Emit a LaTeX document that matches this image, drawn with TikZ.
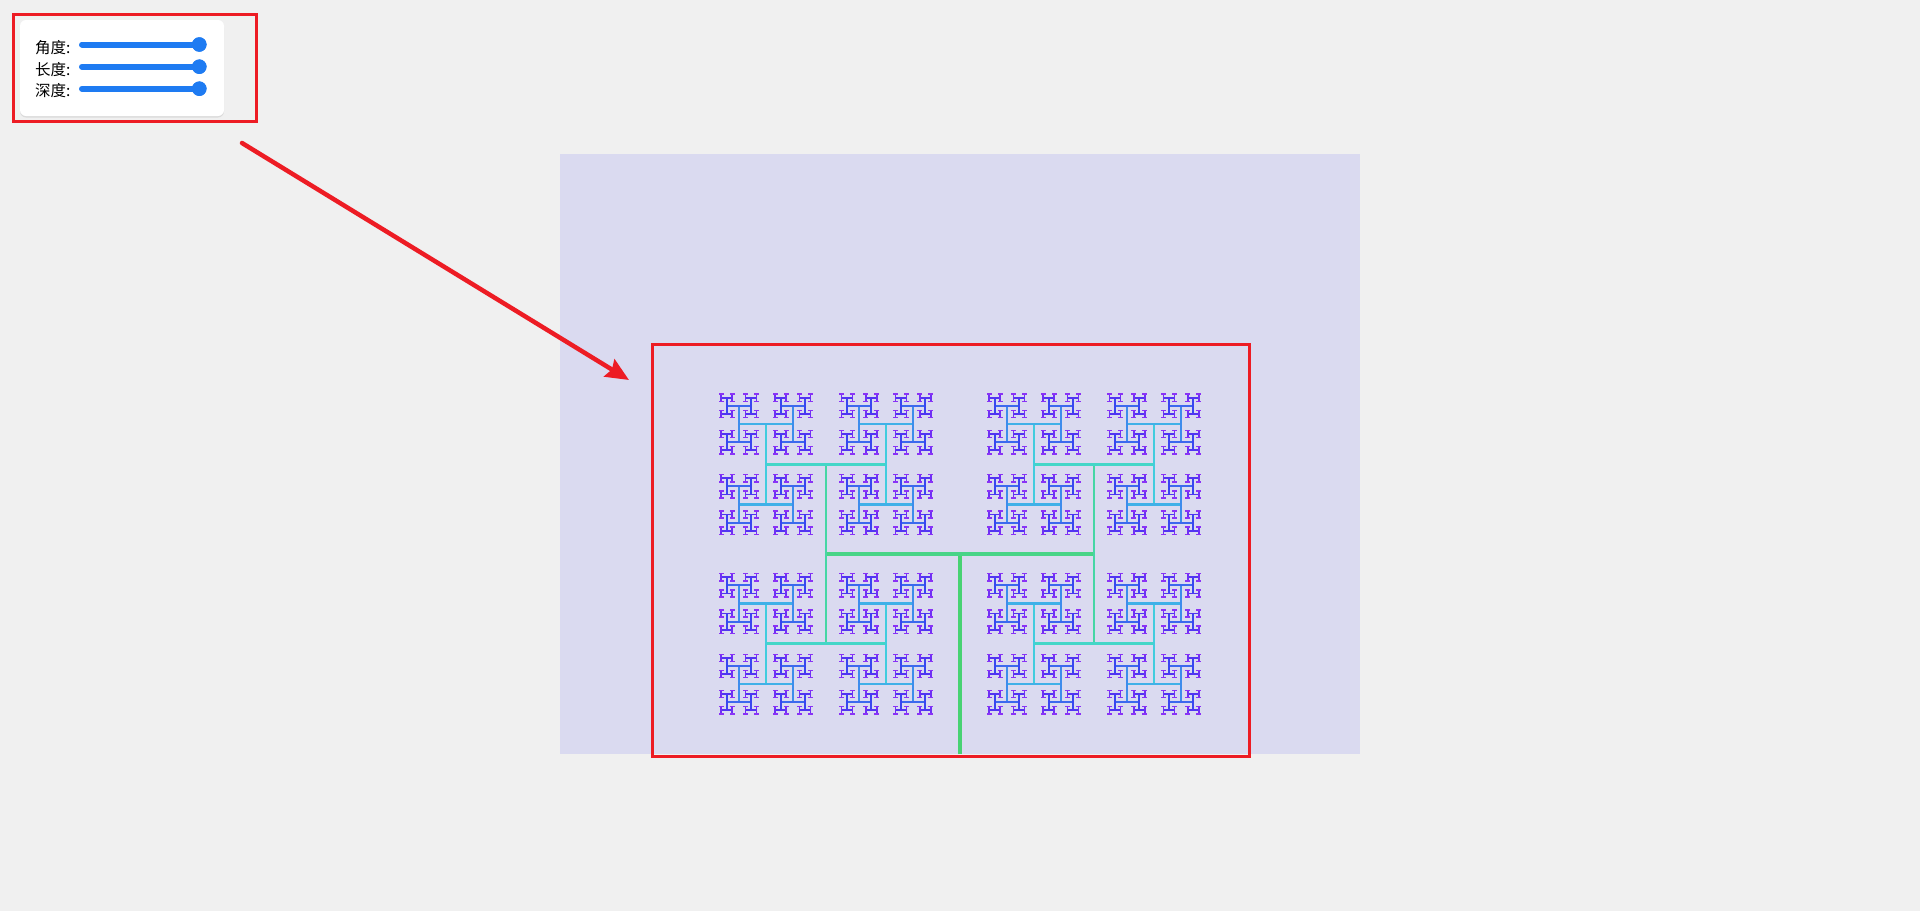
\documentclass[tikz,border=0pt]{standalone}
\usepackage{fontspec}
\newfontfamily\cjk{Noto Sans CJK SC}
\usetikzlibrary{arrows.meta,shadows}
\definecolor{bgc}{RGB}{240,240,240}
\definecolor{canvasc}{RGB}{218,218,240}
\definecolor{annred}{RGB}{237,28,36}
\definecolor{sliderblue}{RGB}{30,123,242}
\definecolor{hlev0}{RGB}{72,210,115}
\definecolor{hlev1}{RGB}{72,212,135}
\definecolor{hlev2}{RGB}{70,214,165}
\definecolor{hlev3}{RGB}{68,214,200}
\definecolor{hlev4}{RGB}{66,204,222}
\definecolor{hlev5}{RGB}{64,176,232}
\definecolor{hlev6}{RGB}{62,140,236}
\definecolor{hlev7}{RGB}{60,104,238}
\definecolor{hlev8}{RGB}{58,70,240}
\definecolor{hlev9}{RGB}{82,52,242}
\definecolor{hlev10}{RGB}{110,48,244}
\definecolor{hlev11}{RGB}{138,50,246}
\newcommand\hbranch[5]{%
  \begingroup
  \pgfmathsetmacro\hex{#1+(#3)}%
  \pgfmathsetmacro\hey{#2+(#4)}%
  \pgfmathsetmacro\hlw{3.2-#5*0.16}%
  \draw[line width=\hlw pt,draw=hlev#5] (#1,#2) -- (\hex,\hey);
  \ifnum#5<11\relax
    \pgfmathsetmacro\hax{-(#4)*0.67}%
    \pgfmathsetmacro\hay{(#3)*0.67}%
    \pgfmathsetmacro\hbx{(#4)*0.67}%
    \pgfmathsetmacro\hby{-(#3)*0.67}%
    \pgfmathtruncatemacro\hnd{#5+1}%
    \edef\hnext{\noexpand\hbranch{\hex}{\hey}{\hax}{\hay}{\hnd}\noexpand\hbranch{\hex}{\hey}{\hbx}{\hby}{\hnd}}%
    \hnext
  \fi
  \endgroup}
\tikzset{
  redframe/.style={draw=annred,line width=3pt,inner sep=0pt,outer sep=0pt},
  panelbox/.style={fill=white,rounded corners=6pt,inner sep=0pt,outer sep=0pt,
    drop shadow={opacity=0.18,shadow xshift=0pt,shadow yshift=-1.5pt}},
  lbl/.style={anchor=west,inner sep=0pt,font=\cjk\fontsize{15.5}{18}\selectfont,text=black},
  track/.style={draw=sliderblue,line width=6pt,line cap=round},
  knob/.style={circle,fill=sliderblue,minimum size=14.5pt,inner sep=0pt},
  redarrow/.style={draw=annred,line width=4.5pt,line cap=round,
    -{Stealth[length=23pt,width=20pt,inset=3pt]}}
}
\begin{document}
\begin{tikzpicture}[x=1pt,y=-1pt]
\fill[bgc] (0,0) rectangle (1920,911);
\useasboundingbox (0,0) rectangle (1920,911);
% canvas
\fill[canvasc] (560,154) rectangle (1360,754);
% H-tree
\hbranch{960}{754}{0}{-200}{0}
% frame around the tree
\node[redframe,minimum width=597pt,minimum height=412pt] (treebox) at (950.5,550) {};
% control panel
\node[panelbox,minimum width=204pt,minimum height=96pt] (panel) at (122,68) {};
\node[lbl] (lblangle) at (35,47.5) {角度:};
\node[lbl] (lbllength) at (35,69.5) {长度:};
\node[lbl] (lbldepth) at (35,91) {深度:};
\coordinate (t1a) at (82,44.5);
\node[knob] (k1) at (199.3,44.5) {};
\coordinate (t2a) at (82,66.7);
\node[knob] (k2) at (199.3,66.7) {};
\coordinate (t3a) at (82,88.7);
\node[knob] (k3) at (199.3,88.7) {};
\draw[track] (t1a) -- (k1.center);
\draw[track] (t2a) -- (k2.center);
\draw[track] (t3a) -- (k3.center);
\node[knob] at (k1.center) {};
\node[knob] at (k2.center) {};
\node[knob] at (k3.center) {};
% frame around control panel
\node[redframe,minimum width=242.5pt,minimum height=107pt] (ctrlbox) at (134.75,67.5) {};
% arrow
\coordinate (arrowstart) at (242,143);
\coordinate (arrowend) at (629,380);
\draw[redarrow] (arrowstart) -- (arrowend);
\end{tikzpicture}
\end{document}
